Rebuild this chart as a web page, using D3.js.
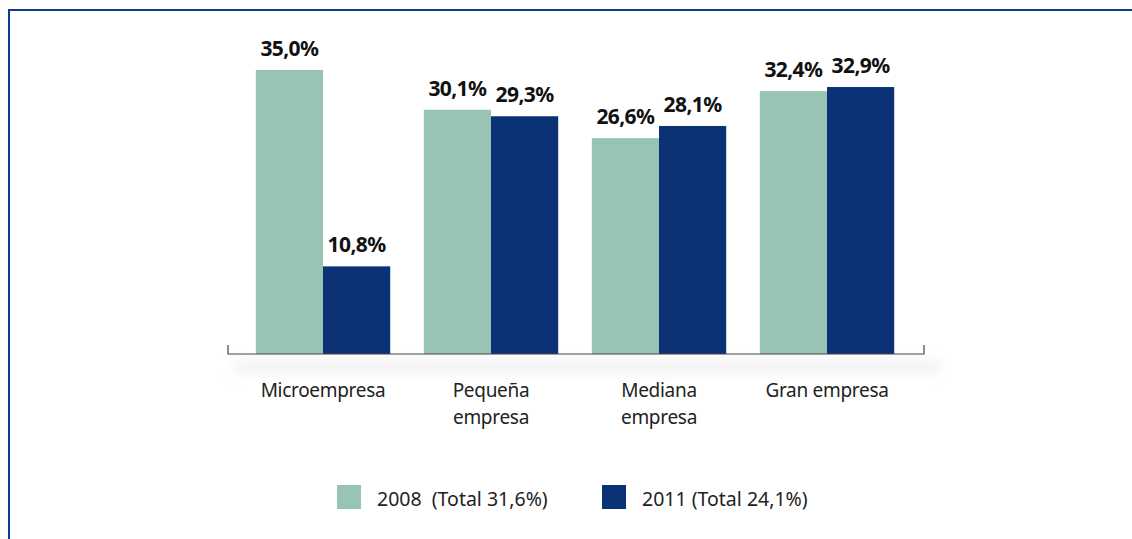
<!DOCTYPE html>
<html lang="es">
<head>
    <meta charset="UTF-8">
    <title>Empresas 2008 / 2011</title>
    <script src="https://cdnjs.cloudflare.com/ajax/libs/d3/7.8.5/d3.min.js"></script>
    <style>
        html, body { margin: 0; padding: 0; background: #fff; }
        svg { display: block; font-family: "Noto Sans", "Open Sans", sans-serif; }
    </style>
</head>
<body>
<svg width="1132" height="539"></svg>

<script>
    // data
    const categories = [["Microempresa"], ["Pequeña", "empresa"], ["Mediana", "empresa"], ["Gran empresa"]];
    const years = ["2008", "2011"];
    const values2008 = [35.0, 30.1, 26.6, 32.4];
    const values2011 = [10.8, 29.3, 28.1, 32.9];
    const legendLabels = ["2008  (Total 31,6%)", "2011 (Total 24,1%)"];
    const colors = ["#97c4b3", "#0b3275"];

    const svg = d3.select("svg");
    const baseY = 354;

    // frame
    svg.append("path")
        .attr("d", "M9,539 V10 H1132")
        .attr("fill", "none")
        .attr("stroke", "#0d3c8e")
        .attr("stroke-width", 2);

    const x0 = d3.scaleBand()
        .domain(d3.range(categories.length))
        .range([239, 911])
        .paddingInner(0.2)
        .paddingOuter(0.1);

    const x1 = d3.scaleBand()
        .domain(years)
        .range([0, x0.bandwidth()]);

    const y = d3.scaleLinear()
        .domain([0, 35])
        .range([baseY, 70]);

    // soft shadow under axis
    const defs = svg.append("defs");
    defs.append("filter")
        .attr("id", "blur")
        .attr("x", "-10%").attr("y", "-100%").attr("width", "120%").attr("height", "300%")
        .append("feGaussianBlur").attr("stdDeviation", 6);
    svg.append("rect")
        .attr("x", 235).attr("y", baseY + 6)
        .attr("width", 705).attr("height", 14)
        .attr("fill", "#f3f3f3")
        .attr("filter", "url(#blur)");

    const rows = categories.map((c, i) => [values2008[i], values2011[i]]);

    const groups = svg.append("g")
        .selectAll("g")
        .data(rows)
        .join("g")
        .attr("transform", (d, i) => `translate(${x0(i)},0)`);

    groups.selectAll("rect")
        .data(d => d)
        .join("rect")
        .attr("x", (d, j) => x1(years[j]))
        .attr("y", d => y(d))
        .attr("width", x1.bandwidth())
        .attr("height", d => baseY - y(d))
        .attr("fill", (d, j) => colors[j]);

    groups.selectAll("text")
        .data(d => d)
        .join("text")
        .attr("x", (d, j) => x1(years[j]) + x1.bandwidth() / 2)
        .attr("y", d => y(d) - 14)
        .attr("text-anchor", "middle")
        .attr("font-size", 21)
        .attr("font-weight", "bold")
        .attr("letter-spacing", -0.6)
        .attr("fill", "#111")
        .text(d => d.toFixed(1).replace(".", ",") + "%");

    // axis line with end ticks
    svg.append("path")
        .attr("d", `M228,${baseY - 9} V${baseY} H924 V${baseY - 9}`)
        .attr("fill", "none")
        .attr("stroke", "#444")
        .attr("stroke-width", 1.2);

    // category labels
    svg.append("g")
        .selectAll("text")
        .data(categories)
        .join("text")
        .attr("x", (d, i) => x0(i) + x0.bandwidth() / 2)
        .attr("y", 397)
        .attr("text-anchor", "middle")
        .attr("font-size", 19)
        .attr("letter-spacing", -0.3)
        .attr("fill", "#222")
        .selectAll("tspan")
        .data(d => d)
        .join("tspan")
        .attr("x", function () { return this.parentNode.getAttribute("x"); })
        .attr("dy", (d, k) => k === 0 ? 0 : 27)
        .text(d => d);

    // legend
    const legendX = [337, 602];
    const legend = svg.append("g")
        .selectAll("g")
        .data(legendLabels)
        .join("g")
        .attr("transform", (d, i) => `translate(${legendX[i]},485)`);

    legend.append("rect")
        .attr("width", 24).attr("height", 24)
        .attr("fill", (d, i) => colors[i]);

    legend.append("text")
        .attr("x", 40)
        .attr("y", 21)
        .attr("font-size", 19.5)
        .attr("fill", "#222")
        .style("white-space", "pre")
        .text(d => d);
</script>
</body>
</html>
